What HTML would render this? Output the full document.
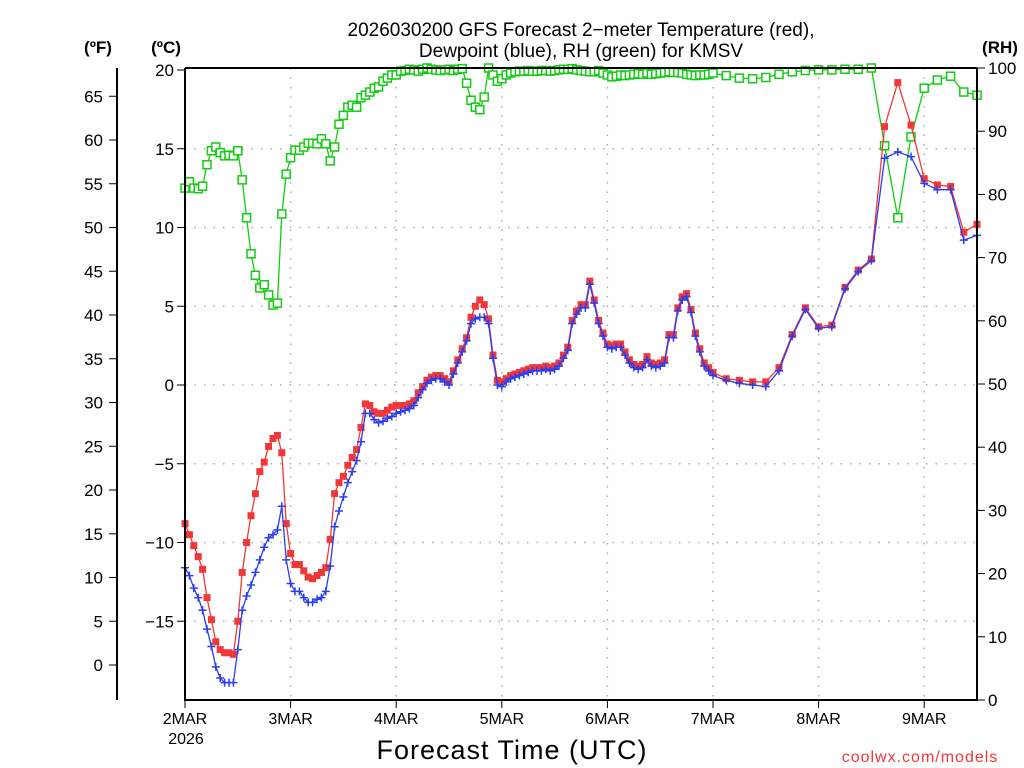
<!DOCTYPE html>
<html><head><meta charset="utf-8"><style>
body{margin:0;background:#fff;}
svg{display:block;font-family:"Liberation Sans",sans-serif;}
</style></head><body>
<svg id="c" width="1024" height="768"></svg>
<script>
const hoursA=[];for(let h=0;h<=120;h++)hoursA.push(h);
const hoursB=[123,126,129,132,135,138,141,144,147,150,153,156,159,162,165,168,171,174,177,180];
const tempA=[-8.8,-9.5,-10.2,-10.9,-11.7,-13.5,-14.9,-16.3,-16.8,-17.0,-17.0,-17.1,-15.0,-11.9,-10.0,-8.3,-6.9,-5.5,-4.9,-3.9,-3.4,-3.2,-4.3,-8.8,-10.7,-11.4,-11.4,-11.8,-12.2,-12.3,-12.1,-11.9,-11.6,-9.8,-6.9,-6.2,-5.8,-5.1,-4.6,-4.1,-2.7,-1.2,-1.3,-1.7,-1.8,-1.8,-1.6,-1.4,-1.3,-1.3,-1.3,-1.2,-1.0,-0.5,-0.1,0.3,0.5,0.6,0.6,0.4,0.2,0.9,1.6,2.3,3.0,4.3,5.0,5.4,5.1,4.2,1.9,0.3,0.2,0.4,0.6,0.7,0.8,0.9,1.0,1.1,1.1,1.1,1.2,1.1,1.2,1.4,1.9,2.4,4.1,4.7,5.1,5.1,6.6,5.4,4.1,3.3,2.6,2.5,2.6,2.6,2.1,1.6,1.3,1.2,1.3,1.8,1.4,1.3,1.4,1.6,3.2,3.2,4.9,5.6,5.8,4.8,3.3,2.3,1.4,1.1,0.8];
const tempB=[0.4,0.3,0.2,0.2,1.1,3.2,4.9,3.7,3.8,6.2,7.3,8.0,16.4,19.2,16.5,13.1,12.7,12.6,9.7,10.2];
const dewA=[-11.6,-12.1,-12.9,-13.5,-14.3,-15.5,-16.6,-17.9,-18.6,-18.9,-18.9,-18.9,-16.8,-14.3,-13.4,-12.7,-11.9,-11.1,-10.3,-9.7,-9.5,-9.2,-7.7,-11.1,-12.6,-13.1,-13.1,-13.5,-13.8,-13.8,-13.6,-13.5,-13.1,-11.5,-9.0,-8.0,-7.1,-6.2,-5.5,-4.8,-3.6,-1.8,-1.8,-2.2,-2.4,-2.3,-2.1,-2.0,-1.8,-1.7,-1.6,-1.5,-1.3,-0.8,-0.3,0.1,0.3,0.4,0.4,0.2,0.0,0.7,1.4,2.1,2.8,3.9,4.2,4.3,4.3,3.9,1.7,0.0,-0.1,0.2,0.4,0.5,0.6,0.7,0.8,0.9,0.9,0.9,1.0,0.9,1.0,1.2,1.7,2.2,3.9,4.5,4.9,4.9,6.4,5.2,3.9,3.1,2.4,2.3,2.4,2.4,1.9,1.4,1.1,1.0,1.1,1.6,1.2,1.1,1.2,1.4,3.0,3.0,4.7,5.4,5.6,4.6,3.1,2.1,1.2,0.9,0.6];
const dewB=[0.3,0.1,0.0,-0.1,0.9,3.1,4.8,3.6,3.7,6.1,7.2,7.9,14.4,14.8,14.5,12.8,12.4,12.4,9.2,9.5];
const rhA=[81.0,82.0,81.0,80.9,81.3,84.7,86.9,87.5,86.6,86.1,86.2,86.1,86.9,82.3,76.3,70.6,67.2,65.2,65.7,64.1,62.5,62.8,76.9,83.2,85.8,87.0,87.0,87.5,88.1,88.1,88.0,88.8,88.0,85.3,87.5,91.1,92.5,93.8,94.1,93.8,95.3,95.7,96.2,96.8,97.0,97.9,98.4,98.9,98.9,99.5,99.6,99.8,99.7,99.5,99.8,100,99.8,99.7,99.6,99.7,99.8,99.6,99.8,99.9,97.6,94.9,93.8,93.4,95.4,100,98.9,97.9,98.3,98.9,99.2,99.4,99.5,99.5,99.6,99.5,99.5,99.6,99.6,99.5,99.6,99.7,99.8,99.8,99.9,99.7,99.6,99.5,99.4,99.4,99.6,99.2,98.9,98.6,98.7,98.9,98.8,98.9,99.0,99.1,99.0,99.2,99.0,99.1,99.2,99.3,99.4,99.3,99.3,99.2,99.0,98.9,98.8,98.9,98.9,99.0,99.2];
const rhB=[98.8,98.4,98.3,98.5,99.0,99.4,99.6,99.7,99.7,99.8,99.8,100,87.7,76.3,89.1,96.8,98.1,98.7,96.2,95.7];
const dayLabels=["2MAR","3MAR","4MAR","5MAR","6MAR","7MAR","8MAR","9MAR"];
const cTicks=[20,15,10,5,0,-5,-10,-15];
const fTicks=[65,60,55,50,45,40,35,30,25,20,15,10,5,0];
const rhTicks=[100,90,80,70,60,50,40,30,20,10,0];

const X0=185,X1=977,Y0=68,Y1=700;
const xs=h=>X0+(h/180)*(X1-X0);
const yc=c=>385-15.75*c;
const yf=f=>yc((f-32)/1.8);
const yr=r=>Y1-(r/100)*(Y1-Y0);
const svg=document.getElementById('c');const NS='http://www.w3.org/2000/svg';
function mk(t,a,p){const e=document.createElementNS(NS,t);for(const k in a)e.setAttribute(k,a[k]);(p||svg).appendChild(e);return e;}
function txt(x,y,s,size,anchor,extra){const e=mk('text',Object.assign({x:x,y:y,'font-size':size,'text-anchor':anchor||'middle',fill:'#000'},extra||{}));e.textContent=s;return e;}

// grid
const grid=mk('g',{stroke:'#aaa','stroke-width':1.5,'stroke-dasharray':'1.5,8'});


cTicks.forEach(c=>{if(c!==20)mk('line',{x1:X0,x2:X1,y1:yc(c),y2:yc(c)},grid);});
dayLabels.forEach((d,i)=>{if(i>0)mk('line',{x1:xs(i*24),x2:xs(i*24),y1:Y0,y2:Y1},grid);});

// series
function series(hA,vA,hB,vB,fy,color,marker,name){
  const g=mk('g',{});
  
  
  const pts=[];hA.forEach((h,i)=>pts.push([xs(h),fy(vA[i])]));hB.forEach((h,i)=>pts.push([xs(h),fy(vB[i])]));
  mk('polyline',{points:pts.map(p=>p.join(',')).join(' '),fill:'none',stroke:color,'stroke-width':1.3},g);
  pts.forEach(p=>{
    if(marker==='fsq')mk('rect',{x:p[0]-3.5,y:p[1]-3.5,width:7,height:7,fill:color},g);
    else if(marker==='osq')mk('rect',{x:p[0]-4,y:p[1]-4,width:8,height:8,fill:'#fff',stroke:color,'stroke-width':1.5},g);
    else mk('path',{d:`M${p[0]-4},${p[1]}h8M${p[0]},${p[1]-4}v8`,stroke:color,'stroke-width':1.5},g);
  });
}
series(hoursA,rhA,hoursB,rhB,yr,'#11cc11','osq','rh-series');
series(hoursA,tempA,hoursB,tempB,yc,'#f03838','fsq','temperature-series');
series(hoursA,dewA,hoursB,dewB,yc,'#2a3ef0','plus','dewpoint-series');

// frame
const fr=mk('g',{stroke:'#000'});


mk('line',{x1:X0,x2:X1,y1:Y0,y2:Y0,'stroke-width':2},fr);
mk('line',{x1:X0,x2:X0,y1:Y0,y2:Y1+1,'stroke-width':2},fr);
mk('line',{x1:X1,x2:X1,y1:Y0,y2:Y1+1,'stroke-width':2},fr);
mk('line',{x1:X0,x2:X1,y1:Y1,y2:Y1,'stroke-width':2},fr);
mk('line',{x1:117,x2:117,y1:Y0,y2:Y1,'stroke-width':2},fr);

// axes labels
cTicks.forEach(c=>{mk('line',{x1:X0-8,x2:X0,y1:yc(c),y2:yc(c),stroke:'#000'});const t=txt(174,yc(c)+6,(c<0?'\u2212':'')+Math.abs(c),17,'end');});
fTicks.forEach(f=>{mk('line',{x1:109,x2:117,y1:yf(f),y2:yf(f),stroke:'#000'});const t=txt(103,yf(f)+6,String(f),17,'end');});
rhTicks.forEach(r=>{mk('line',{x1:X1,x2:X1+8,y1:yr(r),y2:yr(r),stroke:'#000'});const t=txt(988,yr(r)+6,String(r),17,'start');});
dayLabels.forEach((d,i)=>{const x=xs(i*24);mk('line',{x1:x,x2:x,y1:Y1,y2:Y1+8,stroke:'#000'});const t=txt(x,724,d,16,'middle');});
const y26=txt(186,744,'2026',16,'middle');

const l1=txt(98,53,'(ºF)',17,'middle',{'font-weight':'bold'});
const l2=txt(166,53,'(ºC)',17,'middle',{'font-weight':'bold'});
const l3=txt(1000,53,'(RH)',17,'middle',{'font-weight':'bold'});
const t1=txt(581,36,'2026030200 GFS Forecast 2\u2212meter Temperature (red),',19,'middle');
const t2=txt(581,57,'Dewpoint (blue), RH (green) for KMSV',19,'middle');
const xt=txt(512,759,'Forecast Time (UTC)',27,'middle',{'letter-spacing':'1'});
const cr=txt(920,762,'coolwx.com/models',16,'middle',{fill:'#f03838','letter-spacing':'1'});
</script>
</body></html>
